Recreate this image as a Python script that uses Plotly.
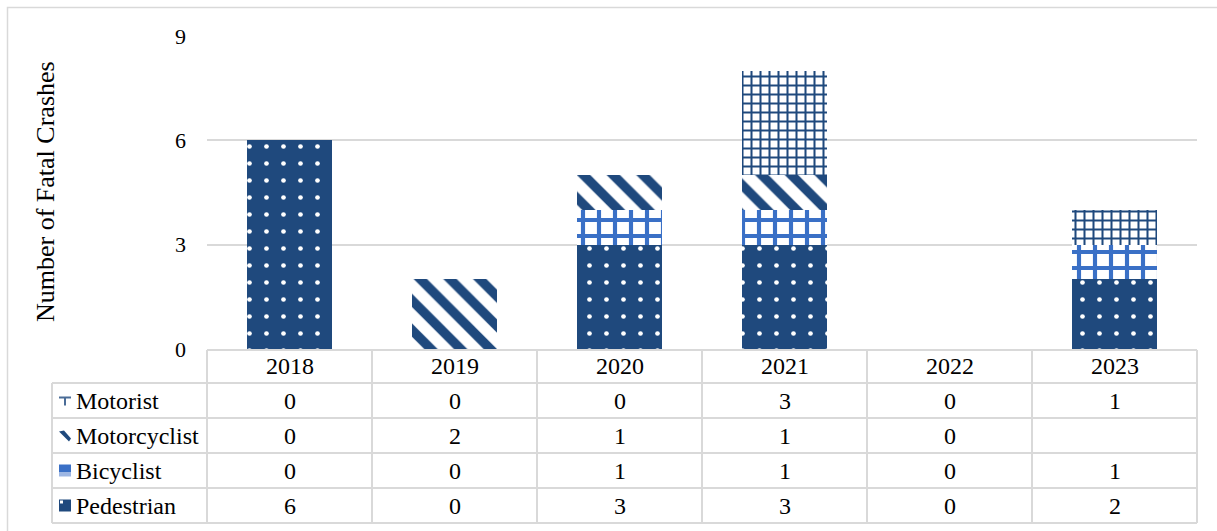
import plotly.graph_objects as go

years = ["2018", "2019", "2020", "2021", "2022", "2023"]
pedestrian = [6, 0, 3, 3, 0, 2]
bicyclist = [0, 0, 1, 1, 0, 1]
motorcyclist = [0, 2, 1, 1, 0, None]
motorist = [0, 0, 0, 3, 0, 1]
y_ticks = [0, 3, 6, 9]
y_title = "Number of Fatal Crashes"

NAVY = "#1F497D"
BLUE = "#3A70C6"
GRID = "#d9d9d9"
FONT = "Liberation Serif"
FS = 24

W, H = 1217, 531
L, R, T, B = 207, 1197, 36, 349
PW, PH = R - L, B - T


def px(x):
    return (x - L) / PW


def py(y):
    return (B - y) / PH


series = [
    ("Pedestrian", pedestrian, dict(shape=".", bgcolor=NAVY, fgcolor="white", size=17, solidity=0.06, fillmode="replace")),
    ("Bicyclist", bicyclist, dict(shape="+", bgcolor="white", fgcolor=BLUE, size=16, solidity=0.45, fillmode="replace")),
    ("Motorcyclist", motorcyclist, dict(shape="\\", bgcolor="white", fgcolor=NAVY, size=21, solidity=0.45, fillmode="replace")),
    ("Motorist", motorist, dict(shape="+", bgcolor="white", fgcolor=NAVY, size=9, solidity=0.4, fillmode="replace")),
]

fig = go.Figure()
for name, vals, pat in series:
    fig.add_trace(go.Bar(
        x=years, y=vals, name=name,
        marker=dict(color=pat["bgcolor"], pattern=pat, line=dict(width=0)),
        showlegend=False,
    ))

shapes = []
annotations = []

# outer frame
shapes.append(dict(type="rect", xref="paper", yref="paper",
                   x0=px(7.5), x1=px(1230), y0=py(7.5), y1=py(545),
                   line=dict(color=GRID, width=1.5), fillcolor="rgba(0,0,0,0)", layer="below"))

# table geometry
row_edges = [350, 383, 418, 453, 488, 523]
left_col = 52
ncat = len(years)
colw = PW / ncat

shapes.append(dict(type="line", xref="paper", yref="paper",
                   x0=px(L), x1=px(R), y0=py(row_edges[0]), y1=py(row_edges[0]),
                   line=dict(color=GRID, width=2)))
for ye in row_edges[1:]:
    shapes.append(dict(type="line", xref="paper", yref="paper",
                       x0=px(left_col), x1=px(R), y0=py(ye), y1=py(ye),
                       line=dict(color=GRID, width=2)))
shapes.append(dict(type="line", xref="paper", yref="paper",
                   x0=px(left_col), x1=px(left_col), y0=py(row_edges[1]), y1=py(row_edges[-1]),
                   line=dict(color=GRID, width=2)))
for i in range(ncat + 1):
    xx = L + i * colw
    shapes.append(dict(type="line", xref="paper", yref="paper",
                       x0=px(xx), x1=px(xx), y0=py(row_edges[0]), y1=py(row_edges[-1]),
                       line=dict(color=GRID, width=2)))

txtfont = dict(family=FONT, size=FS, color="black")

for i, yr in enumerate(years):
    annotations.append(dict(xref="paper", yref="paper", x=(i + 0.5) / ncat,
                            y=py((row_edges[0] + row_edges[1]) / 2), text=yr, showarrow=False,
                            xanchor="center", yanchor="middle", font=txtfont))

table_rows = [("Motorist", motorist), ("Motorcyclist", motorcyclist),
              ("Bicyclist", bicyclist), ("Pedestrian", pedestrian)]
for r, (name, vals) in enumerate(table_rows):
    yc = (row_edges[r + 1] + row_edges[r + 2]) / 2
    annotations.append(dict(xref="paper", yref="paper", x=px(74), y=py(yc), xanchor="left",
                            yanchor="middle", text=name, showarrow=False, font=txtfont))
    for i, v in enumerate(vals):
        if v is None:
            continue
        annotations.append(dict(xref="paper", yref="paper", x=(i + 0.5) / ncat, y=py(yc),
                                xanchor="center", yanchor="middle",
                                text=str(v), showarrow=False, font=txtfont))
    # legend icon
    x0, x1 = 59, 71
    y0, y1 = yc - 6, yc + 6
    if name == "Pedestrian":
        shapes.append(dict(type="rect", xref="paper", yref="paper", x0=px(x0), x1=px(x1),
                           y0=py(y1), y1=py(y0), fillcolor=NAVY, line=dict(width=0)))
        shapes.append(dict(type="rect", xref="paper", yref="paper", x0=px(x0 + 1), x1=px(x0 + 4),
                           y0=py(y0 + 4), y1=py(y0 + 1), fillcolor="white", line=dict(width=0)))
    elif name == "Bicyclist":
        shapes.append(dict(type="rect", xref="paper", yref="paper", x0=px(x0), x1=px(x1),
                           y0=py(y1 - 4), y1=py(y0), fillcolor=BLUE, line=dict(width=0)))
        shapes.append(dict(type="rect", xref="paper", yref="paper", x0=px(x0), x1=px(x1),
                           y0=py(y1), y1=py(y1 - 4), fillcolor="#9db6e3", line=dict(width=0)))
    elif name == "Motorcyclist":
        shapes.append(dict(type="path", xref="paper", yref="paper",
                           path=f"M {px(x0)},{py(y0 + 2)} L {px(x0 + 5)},{py(y0 + 1)} L {px(x1)},{py(y1 - 3)} L {px(x1 - 2)},{py(y1)} Z",
                           fillcolor=NAVY, line=dict(width=0)))
    else:
        shapes.append(dict(type="rect", xref="paper", yref="paper", x0=px(x0), x1=px(x1),
                           y0=py(y0 + 4), y1=py(y0 + 2), fillcolor="#4a6c97", line=dict(width=0)))
        shapes.append(dict(type="rect", xref="paper", yref="paper", x0=px(x0 + 5), x1=px(x0 + 7),
                           y0=py(y1 - 1), y1=py(y0 + 3), fillcolor="#4a6c97", line=dict(width=0)))

annotations.append(dict(xref="paper", yref="paper", x=px(45), y=py(192), text=y_title,
                        textangle=-90, showarrow=False, xanchor="center", yanchor="middle",
                        font=dict(family=FONT, size=26, color="black")))

fig.update_layout(
    width=W, height=H,
    margin=dict(l=L, r=W - R, t=T, b=H - B, pad=0),
    barmode="stack", bargap=0.485,
    plot_bgcolor="white", paper_bgcolor="white",
    font=dict(family=FONT, size=FS, color="black"),
    xaxis=dict(showticklabels=False, showgrid=False, zeroline=False, showline=False,
               ticks="", range=[-0.5, ncat - 0.5]),
    yaxis=dict(range=[0, 9], tickvals=y_ticks, showgrid=True, gridcolor=GRID, gridwidth=2,
               zeroline=False, showline=False, ticks="", ticklabelstandoff=20,
               tickfont=dict(family=FONT, size=22, color="black")),
    shapes=shapes, annotations=annotations,
)

fig.write_html("out.html")
